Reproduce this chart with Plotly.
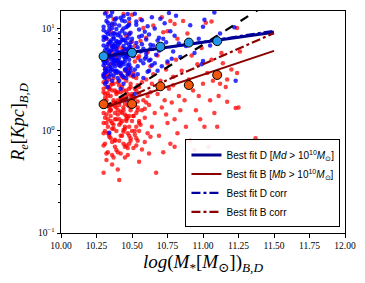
import plotly.graph_objects as go

# ---------------- data ----------------
core_x = [10.30,10.31,10.32,10.33,10.34,10.35,10.36,10.37,10.38,10.39,10.40,10.41,10.42,10.43,10.44,10.45,10.46,10.47,10.48,10.49]
disk_x = [10.30,10.31,10.30,10.32,10.31,10.33,10.30,10.32,10.34,10.33,10.35,10.31,10.36,10.34,10.35,10.37,10.38,10.36,10.39,10.37,
          10.38,10.39,10.32,10.30,10.35,10.33,10.38,10.36,10.31,10.39,10.34,10.37,10.32,10.30,10.36,10.38,10.33,10.35,10.39,10.31,
          10.37,10.34,10.30,10.36,10.38,10.32,10.35,10.39,10.33,10.37,
          10.41,10.42,10.40,10.43,10.44,10.45,10.42,10.46,10.47,10.48,10.41,10.44,10.49,10.46,10.43,10.45,10.48,10.40,10.47,10.42,
          10.49,10.44,10.46,10.41,10.48,10.43,10.45,10.47,10.40,10.49,10.42,10.46,10.44,10.48,10.41,
          10.51,10.53,10.52,10.55,10.54,10.56,10.58,10.57,10.60,10.59,10.62,10.61,10.63,10.64,10.52,10.55,10.58,10.60,10.53,10.62,
          10.64,10.56,10.51,10.59,10.63,10.54,10.57,10.61,10.50,10.65,
          10.67,10.69,10.71,10.73,10.72,10.75,10.77,10.79,10.81,10.68,10.74,10.83,10.70,10.78,10.84,10.66,10.80,10.76,
          10.88,10.91,10.94,10.97,11.01,11.05,11.08,10.99,11.12,11.00,11.22,11.23,11.00,
          10.34,10.46,10.52] + core_x * 4 + [
          10.51,10.54,10.57,10.60,10.63,10.66,10.69,10.72,10.53,10.58,10.62,10.68]
disk_re = [5.0,6.2,7.8,4.1,3.3,8.9,10.5,12.0,5.6,4.6,3.6,2.9,6.8,9.8,13.5,4.9,7.2,3.1,5.9,8.3,
           11.1,3.9,6.6,4.4,7.7,2.7,4.3,10.2,14.2,6.4,3.4,5.3,9.3,8.4,4.7,9.0,7.1,5.1,12.7,4.0,
           3.5,6.0,3.6,14.6,5.6,3.0,8.8,4.6,11.5,6.9,
           5.2,7.5,3.8,9.6,4.5,6.3,12.9,3.3,8.1,5.0,10.8,2.9,6.7,4.1,5.8,11.9,3.7,6.9,14.0,4.3,
           9.2,7.9,5.5,3.1,7.0,3.5,4.8,6.1,8.7,4.2,2.6,10.4,13.3,11.0,4.7,
           5.4,7.3,4.0,9.9,3.6,6.0,4.6,12.2,7.9,5.1,3.9,10.6,6.4,4.4,14.1,8.4,3.3,5.7,11.0,8.8,
           13.0,4.9,3.5,9.4,5.0,6.6,7.1,3.8,8.0,6.9,
           5.6,8.2,4.3,11.4,6.5,4.8,9.5,6.0,13.5,3.9,7.4,7.2,12.6,5.1,5.3,10.1,8.6,14.3,
           6.8,10.9,5.8,8.0,12.3,6.9,14.5,4.5,9.0,10.5,10.4,3.1,4.85,
           0.96,2.0,2.3,
           4.8,5.7,3.8,6.3,7.4,4.2,5.2,9.1,3.9,7.6,5.9,4.4,8.4,6.0,3.4,9.0,5.3,4.4,6.5,3.9,
           6.9,3.7,8.1,5.3,4.3,6.1,11.3,4.5,6.7,5.0,3.3,7.2,5.6,4.7,10.1,5.1,7.3,3.6,8.8,5.7,
           9.7,4.6,5.5,3.9,10.7,7.4,4.0,6.3,12.3,3.7,4.9,9.1,3.7,7.8,5.4,4.0,6.4,10.7,4.5,7.4,
           3.4,8.3,4.9,13.2,5.9,3.9,6.6,8.0,4.9,10.0,7.5,5.9,4.7,12.1,6.8,7.7,3.9,5.4,12.6,6.1,
           6.2,4.3,8.6,5.3,7.0,4.6,6.1,8.0,11.8,6.4,4.9,7.7]

bcore_x = [10.30,10.31,10.32,10.33,10.34,10.35,10.36,10.37,10.38,10.39,10.40,10.41,10.42,
           10.43,10.44,10.45,10.46,10.47,10.48,10.49,10.50,10.51,10.52,10.53,10.54,10.55]
bulge_x = [10.30,10.31,10.32,10.30,10.33,10.34,10.31,10.35,10.36,10.32,10.37,10.38,10.33,10.39,10.30,10.35,10.36,10.31,10.38,10.34,
           10.37,10.32,10.39,10.30,10.33,10.35,10.36,10.38,10.31,10.34,10.37,10.39,10.30,10.32,10.35,10.33,10.36,10.38,10.31,10.34,
           10.37,10.32,10.35,10.39,10.30,10.36,10.33,10.38,
           10.41,10.42,10.43,10.40,10.44,10.45,10.46,10.47,10.48,10.49,10.41,10.42,10.43,10.44,10.45,10.46,10.47,10.48,10.49,10.40,
           10.41,10.43,10.45,10.47,10.49,10.42,10.44,10.46,10.48,10.40,10.43,10.45,10.47,10.49,10.41,10.44,10.46,10.48,10.42,10.50,
           10.51,10.52,10.53,10.54,10.55,10.56,10.57,10.58,10.59,10.60,10.61,10.62,10.63,10.64,10.51,10.53,10.55,10.57,10.59,10.61,
           10.63,10.52,10.54,10.56,10.58,10.60,10.62,10.64,10.50,10.55,10.57,10.59,10.61,10.63,10.65,
           10.66,10.68,10.69,10.70,10.71,10.72,10.73,10.74,10.75,10.76,10.77,10.78,10.79,10.80,10.81,10.82,10.83,10.84,10.67,10.70,
           10.72,10.75,10.77,10.79,10.68,10.82,10.74,10.80,10.71,10.85,
           10.87,10.88,10.90,10.91,10.93,10.95,10.96,10.98,10.99,11.00,10.89,10.92,10.94,10.97,11.01,11.03,11.05,11.06,11.08,11.09,
           10.86,11.02,11.04,11.07,
           11.12,11.14,11.17,11.17,11.23,11.24,11.26,11.24,11.37,11.13,11.16,11.11,11.06,11.25,11.10,11.20] + bcore_x * 4 + [
           10.32,10.36,10.40,10.44,10.48,10.52,10.56,10.60,10.65,10.70,10.75,10.80]
bulge_re = [1.5,2.1,1.2,0.95,1.8,2.6,0.75,1.4,1.05,3.1,2.0,1.3,0.62,1.7,2.4,0.85,2.9,1.35,0.7,1.55,
            1.15,0.52,2.3,0.39,3.6,2.2,0.58,1.9,4.2,0.92,3.3,1.0,1.75,2.7,1.62,1.1,1.8,2.5,5.5,7.0,
            12.5,14.5,9.5,4.8,3.0,0.47,2.35,0.82,
            1.3,2.0,0.9,1.6,2.5,1.1,0.72,1.8,1.4,2.9,0.33,0.6,3.4,1.7,2.2,1.25,0.95,2.6,0.8,2.4,
            1.9,1.5,0.55,3.9,1.6,4.6,6.2,8.5,11.5,0.42,2.05,1.45,0.68,2.2,2.8,1.02,3.1,0.9,1.2,13.8,
            1.4,2.1,0.85,1.7,2.7,1.15,0.66,2.0,1.35,3.2,0.95,1.8,2.4,1.1,3.7,2.5,0.5,1.6,0.78,2.2,
            4.3,1.0,5.2,7.6,10.2,1.9,0.6,2.9,2.3,1.25,3.0,1.65,5.9,0.88,3.6,
            1.5,2.3,0.9,3.1,1.7,0.62,2.0,4.0,1.2,2.6,0.75,1.9,3.4,1.3,5.0,0.95,2.2,1.6,0.39,7.0,
            9.3,4.6,12.0,2.8,5.5,8.0,1.45,0.7,13.0,3.9,
            2.0,1.1,3.2,0.8,2.5,1.6,4.5,1.3,6.5,2.9,9.0,5.5,0.65,2.2,1.1,3.7,2.0,5.0,1.5,8.2,
            12.0,11.5,0.7,3.1,
            2.9,4.6,3.2,1.93,1.68,3.7,6.0,10.2,0.85,5.8,2.7,2.2,11.8,1.7,1.1,4.0,
            1.2,1.9,1.45,2.2,0.88,1.6,2.5,1.05,1.75,1.3,2.0,1.15,1.55,2.7,0.98,1.85,1.4,2.3,1.1,1.7,1.25,2.1,0.92,1.5,1.95,1.2,
            2.6,1.0,2.0,1.3,1.7,2.8,1.2,1.9,0.8,2.4,1.45,1.8,0.9,2.1,1.6,1.05,2.5,1.35,1.75,0.85,2.2,1.4,2.6,1.1,1.6,2.3,
            0.72,2.3,3.4,0.95,2.6,1.25,0.78,2.9,1.5,0.65,3.0,0.8,2.4,1.25,3.3,0.7,1.3,3.6,0.75,2.7,1.0,3.4,1.8,0.72,2.8,1.0,
            3.5,4.0,0.6,5.0,3.2,4.5,6.0,0.55,3.8,5.2,0.62,4.4,3.6,6.5,0.75,3.9,5.6,0.58,4.1,3.5,7.5,0.68,4.8,3.3,0.8,5.4,
            8.0,11.0,6.5,14.0,9.0,6.8,12.5,8.2,10.8,6.3,9.5,11.2]

bin_x = [10.3, 10.5, 10.7, 10.9, 11.1]
bin_disk = [5.4, 5.85, 6.7, 7.35, 7.6]
bin_bulge = [1.83, 1.84, 2.74, 2.82, 3.54]

fit_x = [10.3, 11.5]
fit_d = [5.4, 9.3]
fit_d_corr = [5.25, 9.6]
fit_b = [1.68, 6.1]
fit_b_corr = [1.68, 9.1]
one_to_one = [1.7, 19.3]

x_ticks = [10.0, 10.25, 10.5, 10.75, 11.0, 11.25, 11.5, 11.75, 12.0]
y_ticks = [0.1, 1, 10]
y_ticktext = ["10<sup>\u22121</sup>", "10<sup>0</sup>", "10<sup>1</sup>"]
y_minor = [0.2, 0.3, 0.4, 0.5, 0.6, 0.7, 0.8, 0.9, 2, 3, 4, 5, 6, 7, 8, 9]

legend_names = [
    "Best fit D [<i>Md</i> > 10<sup>10</sup><i>M</i><sub>\u2299</sub>]",
    "Best fit B [<i>Mb</i> > 10<sup>10</sup><i>M</i><sub>\u2299</sub>]",
    "Best fit D corr",
    "Best fit B corr",
]

# ---------------- figure ----------------
fig = go.Figure()
fig.add_trace(go.Scatter(x=bulge_x, y=bulge_re, mode="markers", showlegend=False,
                         marker=dict(color="#ff0000", size=4.5, opacity=0.75, line=dict(width=0))))
fig.add_trace(go.Scatter(x=disk_x, y=disk_re, mode="markers", showlegend=False,
                         marker=dict(color="#0000ff", size=4.5, opacity=0.8, line=dict(width=0))))

fig.add_trace(go.Scatter(x=fit_x, y=one_to_one, mode="lines", showlegend=False,
                         line=dict(color="black", width=2.2, dash="dash")))
fig.add_trace(go.Scatter(x=fit_x, y=fit_d, mode="lines", name=legend_names[0],
                         line=dict(color="#00008b", width=3)))
fig.add_trace(go.Scatter(x=fit_x, y=fit_b, mode="lines", name=legend_names[1],
                         line=dict(color="#8b0000", width=2)))
fig.add_trace(go.Scatter(x=fit_x, y=fit_d_corr, mode="lines", name=legend_names[2],
                         line=dict(color="#0000a0", width=2.2, dash="dashdot")))
fig.add_trace(go.Scatter(x=fit_x, y=fit_b_corr, mode="lines", name=legend_names[3],
                         line=dict(color="#8b0000", width=2.2, dash="dashdot")))

fig.add_trace(go.Scatter(x=bin_x, y=bin_disk, mode="markers", showlegend=False,
                         marker=dict(color="#2196e8", size=9, line=dict(color="black", width=1))))
fig.add_trace(go.Scatter(x=bin_x, y=bin_bulge, mode="markers", showlegend=False,
                         marker=dict(color="#f0560c", size=9, line=dict(color="black", width=1))))

serif = "Liberation Serif, DejaVu Serif, serif"
# page body adds an 8px margin, so the figure is 8px smaller and margins shifted
fig.update_layout(
    width=357, height=275,
    margin=dict(l=53, r=19.5, t=3, b=50, autoexpand=False),
    paper_bgcolor="white", plot_bgcolor="white",
    font=dict(family=serif, color="black", size=10),
    legend=dict(x=0.984, y=0.025, xanchor="right", yanchor="bottom",
                bordercolor="black", borderwidth=1, bgcolor="rgba(255,255,255,0.9)",
                font=dict(family="Liberation Sans, Arial, sans-serif", size=10, color="black"),
                tracegroupgap=0, itemwidth=30),
)
fig.update_xaxes(
    range=[10.0, 12.0], tickvals=x_ticks, tickformat=".2f", automargin=False,
    showline=True, linecolor="black", linewidth=1, mirror=True,
    ticks="outside", ticklen=3.5, tickcolor="black", showgrid=False, zeroline=False,
    tickfont=dict(family=serif, size=9.5),
    title=dict(text="<i>log</i>(<i>M</i><sub>*</sub>[<i>M</i><sub>\u2299</sub>])<sub><i>B,D</i></sub>",
               font=dict(family=serif, size=19), standoff=0),
)
fig.update_yaxes(
    type="log", range=[-1, 1.176], tickvals=y_ticks, ticktext=y_ticktext, automargin=False,
    showline=True, linecolor="black", linewidth=1, mirror=True,
    ticks="outside", ticklen=3.5, tickcolor="black", showgrid=False, zeroline=False,
    tickfont=dict(family=serif, size=9.5),
    minor=dict(tickvals=y_minor, ticks="outside", ticklen=2, tickcolor="black", showgrid=False),
    title=dict(text="<i>R<sub>e</sub></i>[<i>Kpc</i>]<sub><i>B,D</i></sub>",
               font=dict(family=serif, size=18), standoff=15),
)

fig.write_html("out.html")
